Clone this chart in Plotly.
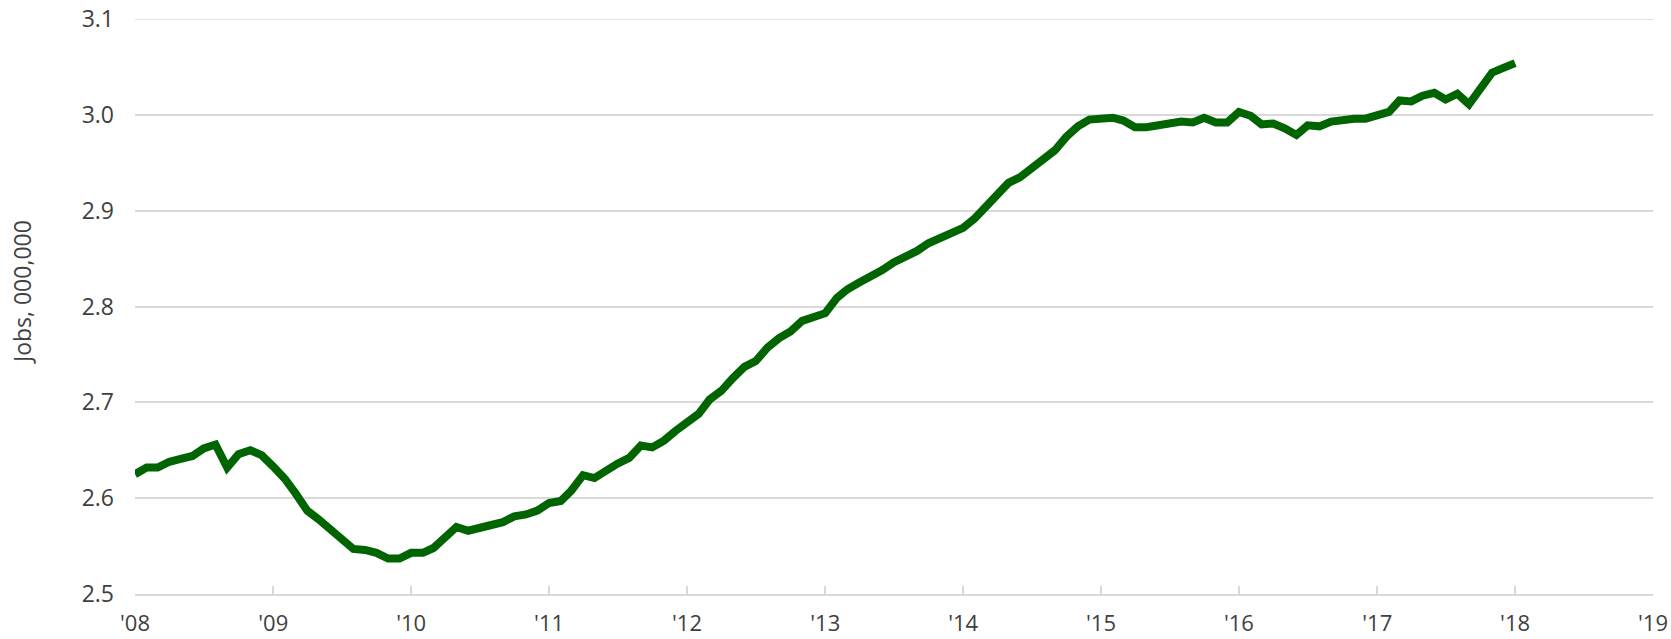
import pandas as pd
import plotly.graph_objects as go

# Monthly jobs (millions), Jan 2008 - Jan 2018
jobs_2008 = [2.625, 2.632, 2.632, 2.638, 2.641, 2.644, 2.652, 2.656, 2.632, 2.646, 2.650, 2.645]
jobs_2009 = [2.633, 2.620, 2.605, 2.587, 2.578, 2.567, 2.556, 2.547, 2.546, 2.543, 2.537, 2.537]
jobs_2010 = [2.543, 2.543, 2.548, 2.559, 2.570, 2.566, 2.570, 2.572, 2.575, 2.581, 2.583, 2.587]
jobs_2011 = [2.595, 2.597, 2.608, 2.624, 2.621, 2.629, 2.636, 2.642, 2.655, 2.653, 2.660, 2.670]
jobs_2012 = [2.678, 2.688, 2.703, 2.712, 2.725, 2.737, 2.743, 2.757, 2.767, 2.774, 2.785, 2.790]
jobs_2013 = [2.793, 2.809, 2.818, 2.825, 2.831, 2.838, 2.846, 2.851, 2.858, 2.866, 2.872, 2.878]
jobs_2014 = [2.882, 2.892, 2.903, 2.917, 2.929, 2.935, 2.944, 2.954, 2.963, 2.977, 2.988, 2.995]
jobs_2015 = [2.995, 2.997, 2.994, 2.987, 2.987, 2.989, 2.993, 2.993, 2.992, 2.997, 2.992, 2.992]
jobs_2016 = [3.003, 2.999, 2.990, 2.991, 2.986, 2.979, 2.989, 2.988, 2.993, 2.995, 2.996, 2.996]
jobs_2017 = [3.000, 3.003, 3.015, 3.014, 3.020, 3.023, 3.016, 3.022, 3.011, 3.027, 3.044, 3.049]
jobs_2018 = [3.054]

jobs = (jobs_2008 + jobs_2009 + jobs_2010 + jobs_2011 + jobs_2012 + jobs_2013
        + jobs_2014 + jobs_2015 + jobs_2016 + jobs_2017 + jobs_2018)
months = pd.date_range("2008-01-01", periods=len(jobs), freq="MS")

year_ticks = pd.date_range("2008-01-01", "2019-01-01", freq="YS")
year_labels = ["'08", "'09", "'10", "'11", "'12", "'13", "'14", "'15", "'16", "'17", "'18", "'19"]
y_ticks = [2.5, 2.6, 2.7, 2.8, 2.9, 3.0, 3.1]
y_labels = ["2.5", "2.6", "2.7", "2.8", "2.9", "3.0", "3.1"]

W, H = 1671, 639
ML, MR, MT, MB = 135, 18, 19, 45
GRID = "#d9d9d9"

fig = go.Figure()
fig.add_trace(go.Scatter(
    x=months, y=jobs, mode="lines",
    line=dict(color="#006400", width=8),
    hoverinfo="x+y", showlegend=False,
))

font = "Open Sans, Noto Sans, sans-serif"
fig.update_layout(
    width=W, height=H,
    margin=dict(l=ML, r=MR, t=MT, b=MB, autoexpand=False),
    paper_bgcolor="white", plot_bgcolor="white",
    font=dict(family=font, size=23, color="#404040"),
    xaxis=dict(
        range=[year_ticks[0], year_ticks[-1]],
        tickmode="array", tickvals=year_ticks, ticktext=year_labels,
        showgrid=False, zeroline=False, automargin=False,
        showline=True, linecolor=GRID, linewidth=2,
        ticks="inside", ticklen=8, tickwidth=2, tickcolor=GRID,
        ticklabelstandoff=9, ticklabeloverflow="allow",
        tickfont=dict(family=font, size=22, color="#404040"),
    ),
    yaxis=dict(
        range=[2.5, 3.1],
        tickmode="array", tickvals=y_ticks, ticktext=y_labels,
        showgrid=True, gridcolor=GRID, gridwidth=1.5,
        zeroline=False, showline=False, ticks="", automargin=False,
        ticklabelstandoff=20, ticklabeloverflow="allow",
        tickfont=dict(family=font, size=23, color="#404040"),
    ),
    shapes=[dict(
        type="line", xref="paper", x0=0, x1=1, yref="y",
        y0=y_ticks[-1], y1=y_ticks[-1], layer="below",
        line=dict(color=GRID, width=1.5),
    )],
    annotations=[dict(
        text="Jobs, 000,000", textangle=-90,
        xref="paper", yref="paper",
        x=(22 - ML) / (W - ML - MR), y=(H - MB - 292) / (H - MT - MB),
        xanchor="center", yanchor="middle", showarrow=False,
        font=dict(family=font, size=23, color="#404040"),
    )],
)

# remove the default 8px page margin so the figure fills the window exactly
fig.write_html("out.html", config={"displayModeBar": False},
               post_script="document.body.style.margin='0';")
